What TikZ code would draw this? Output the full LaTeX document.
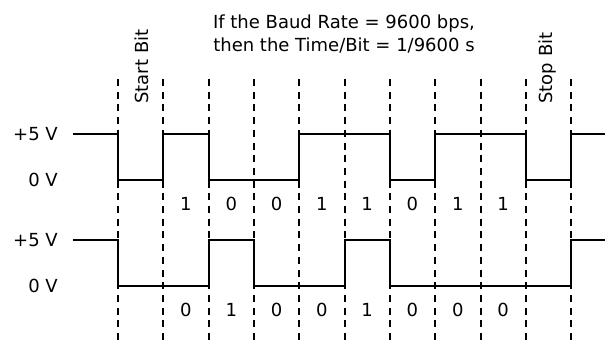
\documentclass[tikz,border=0pt]{standalone}
\usepackage{fontspec}
\setmainfont{DejaVu Sans}

\begin{document}

\begin{tikzpicture}[x = 1pt, y = -1pt, font = \fontsize{18}{23}\selectfont,
	signal/.style = {line width = 2.4pt},
	bit line/.style = {line width = 2.4pt, dash pattern = on 7pt off 5.7pt}]

	\useasboundingbox (0, 0) rectangle (605, 340);

	% Bit boundaries

	\foreach \x in {118, 163, 209, 254, 299, 345, 390, 435, 481, 526, 571}
		\draw [bit line] (\x, 79) -- (\x, 340);

	% Labels

	\node (rate) [align = center] at (344, 34) {If the Baud Rate = 9600 bps,\\then the Time/Bit = 1/9600 s};
	\node (start) [rotate = 90, anchor = base] at (148, 66.5) {Start Bit};
	\node (stop) [rotate = 90, anchor = base] at (552.5, 68) {Stop Bit};

	\node (hiA) [anchor = east, inner sep = 0] at (58, 134) {+5 V};
	\node (loA) [anchor = east, inner sep = 0] at (58, 180) {0 V};
	\node (hiB) [anchor = east, inner sep = 0] at (58, 240) {+5 V};
	\node (loB) [anchor = east, inner sep = 0] at (58, 286) {0 V};

	% Upper waveform

	\draw [signal] (73, 134) -- (118, 134) -- (118, 180) -- (163, 180) -- (163, 134) -- (209, 134) -- (209, 180) -- (299, 180) -- (299, 134) -- (390, 134) -- (390, 180) -- (435, 180) -- (435, 134) -- (526, 134) -- (526, 180) -- (571, 180) -- (571, 134) -- (605, 134);

	\foreach \b [count = \k] in {1, 0, 0, 1, 1, 0, 1, 1}
		\node (bitA\k) at (140.65 + 45.3 * \k, 204) {\b};

	% Lower waveform

	\draw [signal] (73, 240) -- (118, 240) -- (118, 286) -- (209, 286) -- (209, 240) -- (254, 240) -- (254, 286) -- (345, 286) -- (345, 240) -- (390, 240) -- (390, 286) -- (571, 286) -- (571, 240) -- (605, 240);

	\foreach \b [count = \k] in {0, 1, 0, 0, 1, 0, 0, 0}
		\node (bitB\k) at (140.65 + 45.3 * \k, 310) {\b};

\end{tikzpicture}

\end{document}
